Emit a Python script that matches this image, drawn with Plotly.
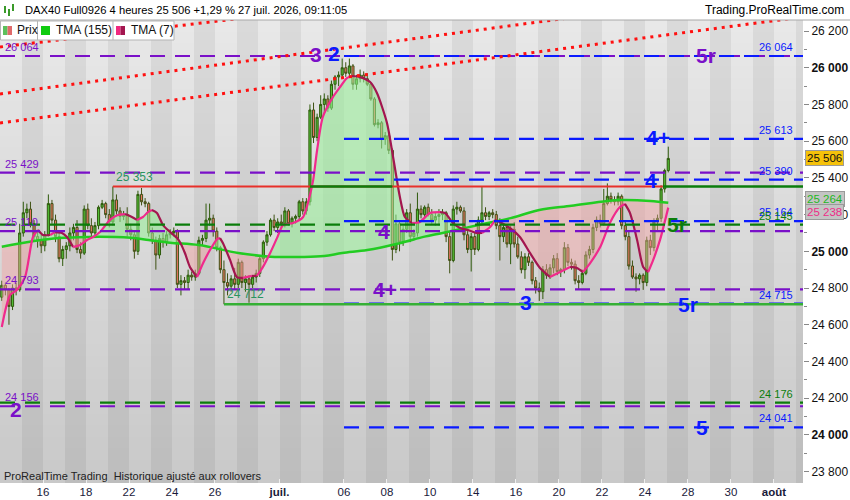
import numpy as np
import plotly.graph_objects as go

# ----------------- DATA ----------------- #

# 4 hour bars, 6 per trading day (12 June -> 27 July 2026)
bars_per_day = 6
tick_days = [2, 4, 6, 8, 10, 13, 16, 18, 20, 22, 24, 26, 28, 30, 32, 34, 36]
tick_labels = ["16", "18", "22", "24", "26", "<b>juil.</b>", "06", "08", "10", "14",
               "16", "20", "22", "24", "28", "30", "<b>août</b>"]

opens = [
    24750, 24815, 24790, 24700, 24800, 24790,
    25100, 25210, 25230, 25150, 25080, 25060,
    25030, 25090, 25260, 25170, 25080, 24960,
    25010, 25030, 25100, 25130, 25010, 24990,
    25230, 25140, 25100, 25140, 25240, 25260,
    25200, 25160, 25280, 25220, 25190, 25200,
    25120, 25090, 25000, 25310, 25270, 25260,
    25100, 25060, 24980, 25070, 25050, 25090,
    25100, 25110, 24820, 24840, 24830, 24870,
    24860, 24880, 25060, 25070, 25170, 25180,
    25110, 25020, 24900, 24830, 24810, 24850,
    24820, 24940, 24830, 24850, 24820, 24860,
    24880, 24960, 25050, 25090, 25170, 25130,
    25160, 25150, 25220, 25150, 25180, 25190,
    25270, 25220, 25270, 25770, 25620, 25730,
    25800, 25830, 25780, 25910, 25950, 25960,
    26000, 25970, 26010, 25910, 25940, 25960,
    25940, 25910, 25830, 25690, 25700, 25610,
    25630, 25550, 25010, 25150, 25050, 25120,
    25210, 25080, 25100, 25230, 25200, 25240,
    25200, 25170, 25190, 25200, 25210, 25080,
    24950, 25230, 25240, 25220, 25090, 25010,
    25080, 25010, 25170, 25210, 25190, 25210,
    25200, 25140, 25080, 25130, 25040, 25120,
    25040, 24970, 24900, 24970, 24940, 24840,
    24800, 24780, 24900, 24870, 24910, 24960,
    24890, 24900, 25020, 24940, 24930, 24840,
    24830, 24880, 24980, 25010, 25130, 25170,
    25150, 25260, 25300, 25280, 25270, 25300,
    25140, 25080, 24920, 24860, 24850, 24870,
    24830, 25060, 25020, 25160, 25180, 25340,
    25440]
highs = [
    24840, 24830, 24800, 24820, 24830, 25150,
    25270, 25260, 25270, 25170, 25110, 25090,
    25110, 25310, 25280, 25200, 25100, 25030,
    25050, 25130, 25150, 25170, 25050, 25250,
    25260, 25180, 25160, 25250, 25280, 25270,
    25230, 25353, 25310, 25240, 25220, 25240,
    25150, 25110, 25330, 25345, 25290, 25270,
    25130, 25080, 25090, 25100, 25110, 25120,
    25130, 25120, 24870, 24860, 24900, 24890,
    24900, 25080, 25090, 25260, 25260, 25200,
    25130, 25030, 24950, 24880, 24870, 24910,
    24960, 24950, 24870, 24870, 24870, 24900,
    24980, 25060, 25110, 25180, 25200, 25180,
    25200, 25240, 25230, 25190, 25200, 25280,
    25290, 25290, 25800, 25810, 25750, 25850,
    25860, 25850, 25930, 25960, 25980, 26050,
    26030, 26050, 26020, 25960, 25990, 25980,
    25970, 25920, 25840, 25720, 25710, 25650,
    25640, 25560, 25200, 25170, 25140, 25230,
    25260, 25120, 25320, 25250, 25250, 25260,
    25230, 25210, 25230, 25230, 25220, 25110,
    25250, 25270, 25250, 25240, 25110, 25100,
    25100, 25190, 25350, 25240, 25220, 25230,
    25220, 25180, 25150, 25140, 25140, 25160,
    25080, 25000, 24990, 24990, 24950, 24860,
    24830, 24920, 24930, 24930, 24980, 24990,
    24910, 25050, 25040, 24960, 24950, 24870,
    24900, 25000, 25030, 25150, 25190, 25200,
    25340, 25370, 25320, 25300, 25320, 25310,
    25170, 25110, 24950, 24880, 24880, 24880,
    25080, 25090, 25180, 25200, 25360, 25450,
    25570]
lows = [
    24730, 24760, 24600, 24680, 24760, 24780,
    25080, 25180, 25130, 25060, 25020, 24990,
    25000, 25080, 25150, 25050, 24940, 24920,
    24960, 25000, 25060, 24990, 24960, 24980,
    25120, 25070, 25080, 25120, 25230, 25180,
    25130, 25140, 25200, 25160, 25170, 25080,
    25060, 24960, 24980, 25250, 25240, 25080,
    25040, 24900, 24960, 25020, 25030, 25070,
    25080, 24800, 24760, 24790, 24790, 24840,
    24840, 24870, 25030, 25050, 25140, 25080,
    25000, 24880, 24712, 24760, 24780, 24790,
    24800, 24800, 24780, 24720, 24800, 24830,
    24860, 24940, 25030, 25080, 25110, 25100,
    25120, 25130, 25140, 25130, 25150, 25170,
    25200, 25200, 25250, 25590, 25600, 25720,
    25750, 25760, 25770, 25880, 25900, 25940,
    25950, 25950, 25880, 25880, 25920, 25920,
    25900, 25820, 25680, 25670, 25560, 25580,
    25530, 24950, 24990, 25000, 25030, 25100,
    25050, 25060, 25080, 25180, 25180, 25190,
    25150, 25140, 25140, 25170, 25050, 24880,
    24940, 25200, 25210, 25060, 24990, 24890,
    24980, 25000, 25150, 25170, 25170, 25180,
    25120, 24950, 25050, 25020, 24930, 25020,
    24960, 24880, 24850, 24920, 24820, 24770,
    24730, 24740, 24850, 24850, 24880, 24870,
    24860, 24880, 24920, 24900, 24820, 24790,
    24820, 24870, 24960, 24990, 25110, 25130,
    25140, 25250, 25260, 25250, 25250, 25120,
    25060, 24900, 24850, 24780, 24820, 24790,
    24810, 24980, 25000, 25110, 25160, 25320,
    25430]
closes = [
    24815, 24790, 24700, 24800, 24790, 25100,
    25210, 25230, 25150, 25080, 25060, 25030,
    25090, 25260, 25170, 25080, 24960, 25010,
    25030, 25100, 25130, 25010, 24990, 25230,
    25140, 25100, 25140, 25240, 25260, 25200,
    25160, 25280, 25220, 25190, 25200, 25120,
    25090, 25000, 25310, 25270, 25260, 25100,
    25060, 24980, 25070, 25050, 25090, 25100,
    25110, 24820, 24840, 24830, 24870, 24860,
    24880, 25060, 25070, 25170, 25180, 25110,
    25020, 24900, 24830, 24810, 24850, 24820,
    24940, 24830, 24850, 24820, 24860, 24880,
    24960, 25050, 25090, 25170, 25130, 25160,
    25150, 25220, 25150, 25180, 25190, 25270,
    25220, 25270, 25770, 25620, 25730, 25800,
    25830, 25780, 25910, 25950, 25960, 26000,
    25970, 26010, 25910, 25940, 25960, 25940,
    25910, 25830, 25690, 25700, 25610, 25630,
    25550, 25010, 25150, 25050, 25120, 25210,
    25080, 25100, 25230, 25200, 25240, 25200,
    25170, 25190, 25200, 25210, 25080, 24950,
    25230, 25240, 25220, 25090, 25010, 25080,
    25010, 25170, 25210, 25190, 25210, 25200,
    25140, 25080, 25130, 25040, 25120, 25040,
    24970, 24900, 24970, 24940, 24840, 24800,
    24780, 24900, 24870, 24910, 24960, 24890,
    24900, 25020, 24940, 24930, 24840, 24830,
    24880, 24980, 25010, 25130, 25170, 25150,
    25260, 25300, 25280, 25270, 25300, 25140,
    25080, 24920, 24860, 24850, 24870, 24830,
    25060, 25020, 25160, 25180, 25340, 25440,
    25506]

# TMA (155) (bar index, value)
tma155_bars = [0, 9, 16, 27, 36, 41, 47, 55, 66, 75, 84, 90, 95, 102, 111, 118,
               123, 133, 142, 150, 159, 169, 173, 181, 186]
tma155_vals = [25025, 25056, 25072, 25080, 25074, 25062, 25047, 25034, 24991, 24971,
               24969, 24974, 24991, 25007, 25044, 25080, 25100, 25143, 25181, 25225,
               25248, 25274, 25279, 25274, 25264]

# TMA (7)
tma7_bars = [0, 2.3, 4.2, 6.5, 8.7, 10.1, 11.5, 13.5, 14.9, 16.8, 18.2, 19.9, 21.8,
             23.8, 25.5, 27.4, 30.2, 32.4, 34.4, 36.3, 37.7, 39.4, 40.8, 41.9, 43.3,
             45, 47, 48.9, 49.7, 51.1, 52.5, 54.5, 56.2, 58.1, 60.1, 60.9, 61.7, 63.7,
             65.6, 67.3, 69.8, 71.2, 72.9, 74.9, 76.8, 78.5, 81.3, 84.1, 86, 86.9, 88,
             89.6, 92.4, 94.4, 96.3, 97.7, 100, 102.8, 104.7, 107.5, 109.2, 111.1,
             112.5, 114.5, 116.7, 119.5, 122.3, 123.7, 125.9, 127.9, 130.1, 132.6,
             134, 136.3, 137.7, 139, 141.8, 144.6, 147.4, 150.2, 153, 155.8, 158.6,
             160.5, 162.2, 164.2, 167, 169.7, 172.5, 173.9, 175.3, 177.3, 179, 180.4,
             181.8, 183.7, 186]
tma7_vals = [24588, 24762, 24789, 24860, 25078, 25116, 25089, 25089, 25105, 25100,
             25078, 25023, 25034, 25062, 25078, 25105, 25171, 25198, 25203, 25187,
             25171, 25187, 25214, 25225, 25209, 25143, 25105, 25072, 25051, 24991,
             24915, 24860, 24936, 25007, 25067, 25072, 25045, 24953, 24860, 24855,
             24866, 24866, 24915, 24991, 25072, 25143, 25154, 25187, 25307, 25388,
             25552, 25732, 25840, 25895, 25944, 25955, 25949, 25922, 25862, 25699,
             25514, 25296, 25187, 25154, 25160, 25209, 25214, 25209, 25154, 25127,
             25116, 25100, 25100, 25132, 25171, 25160, 25127, 25078, 24991, 24909,
             24860, 24887, 24915, 24909, 24887, 24936, 25023, 25154, 25241, 25258,
             25209, 25062, 24915, 24887, 24953, 25062, 25238]

# horizontal levels
level_prices = [26064, 26064, 25613, 25429, 25390, 25164, 25145, 25110, 24793,
                24715, 24176, 24156, 24041]
level_kind = ["p", "b", "b", "p", "b", "b", "g", "p", "p", "b", "g", "p", "b"]
level_from_day = [0, 16, 16, 0, 16, 16, 0, 0, 0, 16, 0, 0, 16]
level_tag = ["left", "right", "right", "left", "right", "right", "right", "left",
             "left", "right", "right", "left", "right"]

# wave counts written on the levels
wave_text = ["3", "2", "5r", "4+", "4", "5r", "4", "4+", "3", "5r", "2", "5"]
wave_kind = ["p", "b", "p", "b", "b", "g", "p", "p", "b", "b", "p", "b"]
wave_bar = [87.7, 92.7, 196.5, 183, 181.2, 188.4, 106.7, 107, 146.3, 191.5, 4, 195.4]
wave_price = [26070, 26075, 26064, 25618, 25385, 25145, 25110, 24793, 24720, 24712,
              24140, 24041]

# swing high / low lines
swing_high = 25353
swing_high_from = 31
swing_high_break = 184.5
swing_high_green = [(86, 109), (184.5, 224)]
swing_low = 24712
swing_low_from = 62

# red dotted trendlines (bar, price) pairs
trend_lines = [([-0.5, 80], [26113, 26300]),
               ([-0.5, 170], [25857, 26302]),
               ([-0.5, 224], [25699, 26278])]

last_price = 25506

# ----------------- PLOTTING ----------------- #

colors = {"p": "#7a10c8", "b": "#0a1aff", "g": "#0b7d0b"}
FONT = "Liberation Sans, Arial, sans-serif"
x_lo, x_hi = -0.5, 223.6
y_lo, y_hi = 23738, 26260


def fmt(v):
    return "{:,}".format(int(v)).replace(",", " ")


def px(x):
    return x / 803.0


def py(y):
    return (483.0 - y) / 463.0


fig = go.Figure()

# background: alternating day bands, darker towards the bottom
n_days = 38
band_x = [d * bars_per_day - 0.5 for d in range(n_days + 1)]
n_rows = 40
band_y = list(np.linspace(y_lo, y_hi, n_rows + 1))
z = []
for r in range(n_rows):
    f = r / (n_rows - 1)
    light = 201 + 31 * f
    dark = 189 + 29 * f
    z.append([light if d % 2 == 0 else dark for d in range(n_days)])
fig.add_trace(go.Heatmap(x=band_x, y=band_y, z=z, zmin=0, zmax=255,
                         colorscale=[[0, "rgb(0,0,0)"], [1, "rgb(255,255,255)"]],
                         showscale=False, hoverinfo="skip"))

# fill between the two averages
t7x = np.array(tma7_bars, float)
t7y = np.array(tma7_vals, float)
t155 = np.interp(t7x, tma155_bars, tma155_vals)
diff = t7y - t155

polys = []
cur_x, cur_a, cur_b = [t7x[0]], [t7y[0]], [t155[0]]
for i in range(len(t7x) - 1):
    if np.sign(diff[i]) != np.sign(diff[i + 1]) and diff[i + 1] != 0:
        t = diff[i] / (diff[i] - diff[i + 1])
        xc = t7x[i] + t * (t7x[i + 1] - t7x[i])
        yc = t155[i] + t * (t155[i + 1] - t155[i])
        cur_x.append(xc); cur_a.append(yc); cur_b.append(yc)
        polys.append((cur_x, cur_a, cur_b, diff[i] > 0))
        cur_x, cur_a, cur_b = [xc], [yc], [yc]
    cur_x.append(t7x[i + 1]); cur_a.append(t7y[i + 1]); cur_b.append(t155[i + 1])
polys.append((cur_x, cur_a, cur_b, diff[-1] > 0))

for xs, a, b, up in polys:
    fig.add_trace(go.Scatter(
        x=xs + xs[::-1], y=a + b[::-1], mode="lines", fill="toself",
        fillcolor="rgba(150,240,150,0.55)" if up else "rgba(245,160,160,0.45)",
        line=dict(width=0), hoverinfo="skip", showlegend=False))

# candles
fig.add_trace(go.Candlestick(
    x=list(range(len(opens))), open=opens, high=highs, low=lows, close=closes,
    increasing=dict(fillcolor="#52bd36", line=dict(color="#2f5a0c", width=1)),
    decreasing=dict(fillcolor="#e87563", line=dict(color="#3f5214", width=1)),
    whiskerwidth=0, hoverinfo="skip", showlegend=False))

# TMA 155
fig.add_trace(go.Scatter(x=tma155_bars, y=tma155_vals, mode="lines",
                         line=dict(color="#22cc22", width=2.5, shape="spline"),
                         hoverinfo="skip", showlegend=False))

# TMA 7, pink when rising, dark red when falling
rising = np.diff(t7y) > 0
start = 0
for k in range(1, len(rising) + 1):
    if k == len(rising) or rising[k] != rising[start]:
        fig.add_trace(go.Scatter(
            x=t7x[start:k + 1], y=t7y[start:k + 1], mode="lines",
            line=dict(color="#f02a8c" if rising[start] else "#a3164f", width=2.2,
                      shape="spline", smoothing=0.7),
            hoverinfo="skip", showlegend=False))
        start = k

# horizontal dashed levels
for price, kind, d0 in zip(level_prices, level_kind, level_from_day):
    fig.add_trace(go.Scatter(x=[d0 * bars_per_day - 0.5, x_hi], y=[price, price],
                             mode="lines",
                             line=dict(color=colors[kind], width=2.2, dash="15px,10px"),
                             hoverinfo="skip", showlegend=False))

# swing high (red until broken) and swing low
fig.add_trace(go.Scatter(x=[swing_high_from, swing_high_break], y=[swing_high] * 2,
                         mode="lines", line=dict(color="#e8302a", width=2),
                         hoverinfo="skip", showlegend=False))
for g0, g1 in swing_high_green:
    fig.add_trace(go.Scatter(x=[g0, g1], y=[swing_high] * 2, mode="lines",
                             line=dict(color="#0b7d0b", width=2.5),
                             hoverinfo="skip", showlegend=False))
fig.add_trace(go.Scatter(x=[swing_low_from, x_hi], y=[swing_low] * 2, mode="lines",
                         line=dict(color="#35b035", width=2.5),
                         hoverinfo="skip", showlegend=False))

# red dotted trendlines
for xs, ys in trend_lines:
    fig.add_trace(go.Scatter(x=xs, y=ys, mode="lines",
                             line=dict(color="#ff1010", width=3, dash="3px,5px"),
                             hoverinfo="skip", showlegend=False))

annotations = []

# level tags
for price, kind, side in zip(level_prices, level_kind, level_tag):
    if side == "left":
        annotations.append(dict(x=x_lo, y=price, xref="x", yref="y", text=fmt(price),
                                xanchor="left", yanchor="bottom", xshift=3, yshift=1,
                                showarrow=False,
                                font=dict(family=FONT, size=11, color=colors[kind])))
    else:
        annotations.append(dict(x=221.4, y=price, xref="x", yref="y", text=fmt(price),
                                xanchor="right", yanchor="bottom", yshift=1,
                                showarrow=False,
                                font=dict(family=FONT, size=11, color=colors[kind])))

# wave counts
for t, kind, b, p in zip(wave_text, wave_kind, wave_bar, wave_price):
    annotations.append(dict(x=b, y=p, xref="x", yref="y", text="<b>%s</b>" % t,
                            showarrow=False, xanchor="center", yanchor="middle",
                            font=dict(family=FONT, size=21, color=colors[kind])))

# swing values
annotations.append(dict(x=swing_high_from, y=swing_high, xref="x", yref="y",
                        text=fmt(swing_high), xanchor="left", yanchor="bottom",
                        xshift=1, yshift=1, showarrow=False,
                        font=dict(family=FONT, size=12, color="#2a9460")))
annotations.append(dict(x=swing_low_from, y=swing_low, xref="x", yref="y",
                        text=fmt(swing_low), xanchor="left", yanchor="bottom",
                        xshift=1, yshift=1, showarrow=False,
                        font=dict(family=FONT, size=12, color="#2a9460")))

# right axis tags
tags = [(last_price, "#f5c20a", "#111111", 0),
        (tma155_vals[-1], "#c4c4c4", "#1fb81f", 4),
        (tma7_vals[-1], "#c4c4c4", "#ee2c88", -4)]
for val, bg, fc, ys in tags:
    annotations.append(dict(x=1, y=val, xref="paper", yref="y", text=fmt(val),
                            xanchor="left", yanchor="middle", xshift=2, yshift=ys,
                            showarrow=False, bgcolor=bg, bordercolor="#9a9a9a",
                            borderwidth=1, borderpad=1,
                            font=dict(family=FONT, size=11.5, color=fc)))

# header
annotations.append(dict(x=px(23), y=py(10), xref="paper", yref="paper",
                        text="DAX40 Full0926 4 heures 25 506 +1,29 % 27 juil. 2026, 09:11:05",
                        xanchor="left", yanchor="middle", showarrow=False,
                        font=dict(family=FONT, size=11.2, color="#000000")))
annotations.append(dict(x=px(846), y=py(10), xref="paper", yref="paper",
                        text="Trading.ProRealTime.com", xanchor="right",
                        yanchor="middle", showarrow=False,
                        font=dict(family=FONT, size=12, color="#000000")))

# legend box texts
for tx, x0 in [("Prix", 15), ("TMA (155)", 54), ("TMA (7)", 129)]:
    annotations.append(dict(x=px(x0), y=py(30.5), xref="paper", yref="paper", text=tx,
                            xanchor="left", yanchor="middle", showarrow=False,
                            font=dict(family=FONT, size=12, color="#111111")))

annotations.append(dict(x=px(2), y=py(476), xref="paper", yref="paper",
                        text="ProRealTime Trading  Historique ajusté aux rollovers",
                        xanchor="left", yanchor="middle", showarrow=False,
                        font=dict(family=FONT, size=11, color="#222222")))

shapes = [
    dict(type="line", xref="paper", yref="paper", x0=0, x1=px(850), y0=py(20), y1=py(20),
         line=dict(color="#a8a8a8", width=1)),
    dict(type="rect", xref="paper", yref="paper", x0=px(0.5), x1=px(174), y0=py(40),
         y1=py(21), fillcolor="white", line=dict(color="#b5b5b5", width=1)),
    dict(type="line", xref="paper", yref="paper", x0=px(37.5), x1=px(37.5), y0=py(40),
         y1=py(21), line=dict(color="#b5b5b5", width=1)),
    dict(type="line", xref="paper", yref="paper", x0=px(113), x1=px(113), y0=py(40),
         y1=py(21), line=dict(color="#b5b5b5", width=1)),
]
icons = [(3, 7.5, "#5cc05c"), (7.5, 12, "#e06a6a"), (41, 50, "#10cc10"),
         (116, 120.5, "#f0287f"), (120.5, 125, "#a3164f")]
for a, b, c in icons:
    shapes.append(dict(type="rect", xref="paper", yref="paper", x0=px(a), x1=px(b),
                       y0=py(35), y1=py(26), fillcolor=c, line=dict(width=0)))
# little candle glyph in the header
for a, y0, y1, c in [(5, 13, 6, "#3a9a2a"), (9, 16, 9, "#3a9a2a"), (13, 11, 4, "#3a9a2a")]:
    shapes.append(dict(type="rect", xref="paper", yref="paper", x0=px(a - 1), x1=px(a + 1),
                       y0=py(y0), y1=py(y1), fillcolor=c, line=dict(width=0)))

y_ticks = list(range(23800, 26201, 200))
y_text = ["<b>%s</b>" % fmt(v) if v % 1000 == 0 else fmt(v) for v in y_ticks]

fig.update_layout(
    width=850, height=500,
    margin=dict(l=0, r=47, t=20, b=17, pad=0),
    paper_bgcolor="white", plot_bgcolor="#d8d8d8",
    showlegend=False, boxgap=0.15,
    annotations=annotations, shapes=shapes,
    font=dict(family=FONT),
    xaxis=dict(range=[x_lo, x_hi], showgrid=False, zeroline=False,
               rangeslider=dict(visible=False),
               tickvals=[d * bars_per_day - 0.5 for d in tick_days],
               ticktext=tick_labels, ticks="inside", ticklen=4,
               tickcolor="#eeeeee", tickfont=dict(family=FONT, size=11.5, color="#1a1a3a")),
    yaxis=dict(range=[y_lo, y_hi], side="right", showgrid=False, zeroline=False,
               tickvals=y_ticks, ticktext=y_text, ticks="outside", ticklen=5,
               tickcolor="#888888", tickfont=dict(family=FONT, size=12, color="#111111"),
               minor=dict(tick0=23700, dtick=100, ticks="outside", ticklen=3,
                          tickcolor="#888888")),
)

# the page keeps the browser's default 8px body margin otherwise
fig.write_html("out.html", config={"displayModeBar": False},
               post_script="document.body.style.margin='0px';")
